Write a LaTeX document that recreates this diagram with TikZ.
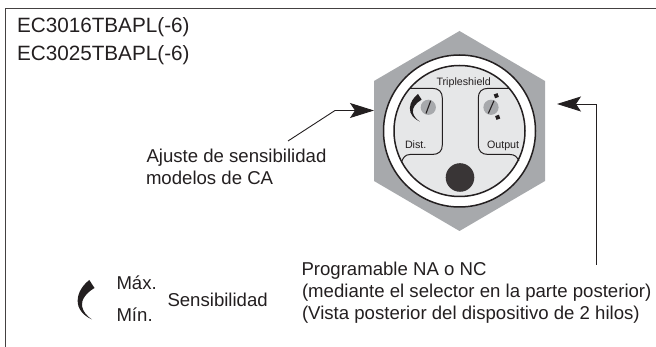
\documentclass[tikz,border=0pt]{standalone}
\usepackage{fontspec}
\setmainfont{Liberation Sans}
\usetikzlibrary{arrows.meta}
\definecolor{ink}{HTML}{231F20}
\definecolor{hexgray}{HTML}{A7A9AC}
\definecolor{facegray}{HTML}{E6E7E8}
\newcommand{\sizedtext}[1]{\fontsize{#1}{#1}\selectfont}
\tikzset{
  lbl/.style={anchor=base west,inner sep=0pt,outer sep=0pt,text=ink,font=\sizedtext{18.6}},
  hdr/.style={lbl,font=\sizedtext{20.7}},
  tiny/.style={lbl,font=\sizedtext{10.7}},
  leader/.style={draw=ink,line width=0.9pt,-{Stealth[length=24pt,width=15pt,inset=5pt]}},
  ring/.style={draw=ink,line width=1.5pt},
  panel/.style={draw=ink,line width=1pt},
  screw/.style={fill=hexgray},
  slot/.style={draw=ink,line width=1.1pt},
}
\newcommand{\sensemark}{%
  \fill[ink] (89.3,280) -- (94.5,288)
    .. controls (86,293) and (81,300) .. (82,306)
    .. controls (83,312) and (87,316) .. (92,319.5)
    .. controls (84,316) and (77,309) .. (77.7,300)
    .. controls (78,292) and (83,285) .. (89.3,280) -- cycle;}
\begin{document}
\begin{tikzpicture}[x=1pt,y=-1pt]
\useasboundingbox (0,0) rectangle (656,347);
\draw[draw=ink!85,line width=1.5pt] (5.5,347) -- (5.5,8.5) -- (656,8.5);
% hexagon body
\fill[hexgray] (459.5,31) -- (545,81) -- (545,181) -- (459.5,231) -- (374,181) -- (374,81) -- cycle;
\filldraw[ring,fill=white] (459.5,131) circle (76);
\filldraw[ring,fill=facegray] (459.5,131) circle (65.5);
% panels
\draw[panel] (410,88.3) -- (432,88.3) .. controls (439,88.3) and (442.3,92) .. (442.3,98)
  -- (442.3,145) .. controls (442.3,151) and (439,154.5) .. (432,154.5)
  -- (410,154.5) .. controls (405,154.5) and (403,158) .. (401.5,162);
\draw[panel] (509,88.3) -- (488.5,88.3) .. controls (481.5,88.3) and (478.3,92) .. (478.3,98)
  -- (478.3,145) .. controls (478.3,151) and (481.5,154.5) .. (488.5,154.5)
  -- (510,154.5) .. controls (515,154.5) and (517,157) .. (519,161);
% screws
\fill[screw] (428.3,107.3) circle (7.6);
\draw[slot] (426,113.5) -- (430.7,100.7);
\fill[screw] (491,107.3) circle (7.6);
\draw[slot] (488.3,113.5) -- (494,100.7);
\fill[ink,rotate around={20:(496.3,95.7)}] (494.3,93.7) rectangle (498.3,97.7);
\fill[ink,rotate around={20:(497.7,117.3)}] (495.7,115.3) rectangle (499.7,119.3);
% dark button
\fill[ink!90] (460,177.5) circle (14.3);
% sensitivity marks
\begin{scope}[shift={(355.5,-102)},scale=0.7,transform shape]\sensemark\end{scope}
\sensemark
% texts
\node[hdr] (h1) at (17,33) {EC3016TBAPL(-6)};
\node[hdr] (h2) at (17,61) {EC3025TBAPL(-6)};
\node[tiny] (trip) at (436.5,86) {Tripleshield};
\node[tiny] (dist) at (405,149) {Dist.};
\node[tiny] (outp) at (487,149) {Output};
\node[lbl] (aj1) at (146.5,162.5) {Ajuste de sensibilidad};
\node[lbl] (aj2) at (146,184.3) {modelos de CA};
\node[lbl] (p1) at (301.5,275.7) {Programable NA o NC};
\node[lbl] (p2) at (302,297.5) {(mediante el selector en la parte posterior)};
\node[lbl] (p3) at (302,319.3) {(Vista posterior del dispositivo de 2 hilos)};
\node[lbl] (mx) at (116.5,290) {Máx.};
\node[lbl] (mn) at (116.5,321.7) {Mín.};
\node[lbl] (sens) at (167.5,306.7) {Sensibilidad};
% connectors
\coordinate (a0) at (288,141);
\coordinate (a1) at (335,110.5);
\coordinate (a2) at (374,110.5);
\coordinate (b0) at (596,265);
\coordinate (b1) at (596,104);
\coordinate (b2) at (557,104);
\draw[leader] (a0) -- (a1) -- (a2);
\draw[leader] (b0) -- (b1) -- (b2);
\end{tikzpicture}
\end{document}
